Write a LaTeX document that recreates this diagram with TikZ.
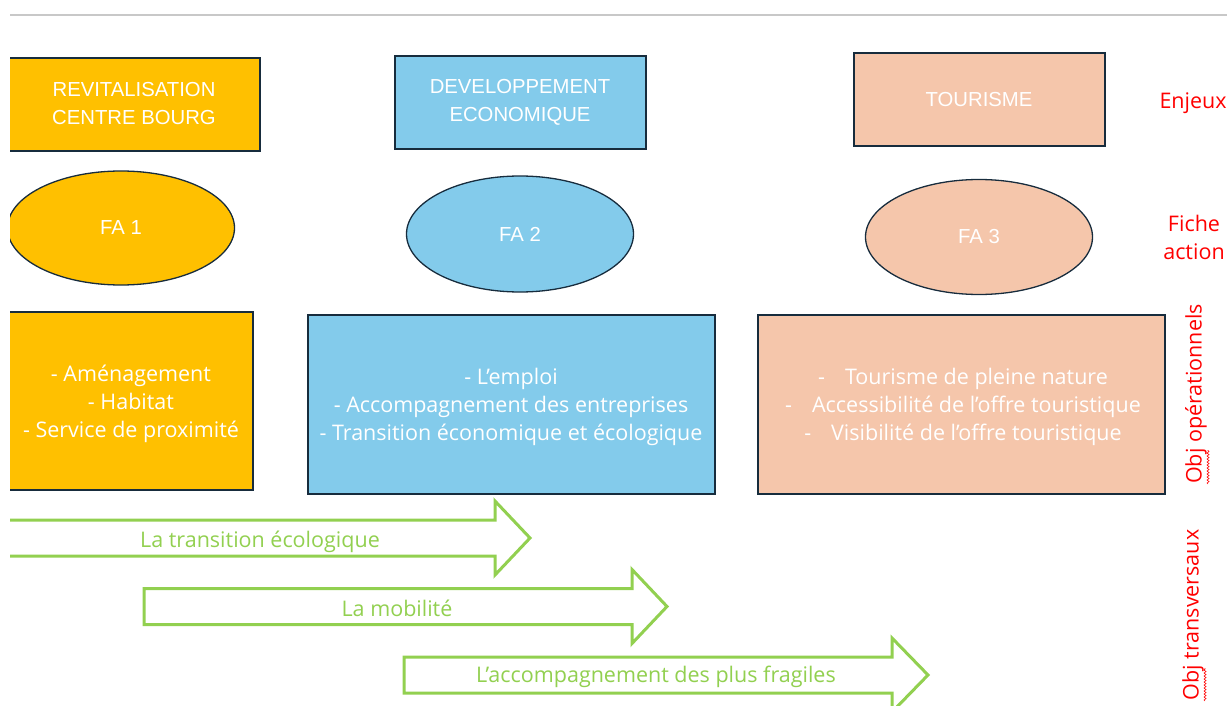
\documentclass[tikz,border=0pt]{standalone}
\usepackage{fontspec}
\setmainfont{Open Sans}
\newfontfamily\hdfont{Liberation Sans}
\usetikzlibrary{shapes.geometric,decorations.pathmorphing}
\definecolor{cgold}{HTML}{FFC000}
\definecolor{cblue}{HTML}{83CBEB}
\definecolor{cpeach}{HTML}{F5C6AB}
\definecolor{cborder}{HTML}{172C3D}
\definecolor{cgreen}{HTML}{92D050}
\definecolor{cred}{HTML}{FF0000}
\definecolor{cgrayline}{HTML}{C8C8C8}
\newcommand\garrow[5]{% name, left, headbase, tip, cy
  \draw[arrowline] (#2,#5-18) -- (#3,#5-18) -- (#3,#5-37) -- (#4,#5) -- (#3,#5+37) -- (#3,#5+18) -- (#2,#5+18) -- cycle;
  \coordinate (#1) at (#4,#5);
}
\begin{document}
\begin{tikzpicture}[x=1pt,y=-1pt,
  hdbox/.style={draw=cborder,line width=1.5pt,inner sep=0pt},
  hdtext/.style={text=white,font=\hdfont\fontsize{20.3}{28}\selectfont,align=center},
  fa/.style={ellipse,draw=cborder,line width=1.3pt,inner sep=0pt,text=white,font=\hdfont\fontsize{20.3}{24}\selectfont},
  objtext/.style={text=white,font=\fontsize{21.5}{28}\selectfont,align=center},
  arrowline/.style={draw=cgreen,line width=3pt,fill=white,line join=miter},
  arrowtext/.style={text=cgreen,font=\fontsize{21.5}{24}\selectfont},
  redlabel/.style={text=cred,font=\fontsize{21.5}{28}\selectfont,align=center},
]
\useasboundingbox (0,0) rectangle (1227,706);
\begin{scope}
\clip (10,0) rectangle (1227,706);
\draw[cgrayline,line width=1.5pt] (10,15) -- (1227,15);
% Enjeux row
\draw[hdbox,fill=cgold] (-10,58) rectangle (260,151);
\node[hdtext] (e1) at (134,104) {REVITALISATION\\CENTRE BOURG};
\draw[hdbox,fill=cblue] (395,56) rectangle (646,149);
\node[hdtext] (e2) at (520,102) {DEVELOPPEMENT\\ECONOMIQUE};
\draw[hdbox,fill=cpeach] (854,53) rectangle (1105,146);
\node[hdtext] (e3) at (979,100) {TOURISME};
\node[redlabel,anchor=west] (lenj) at (1156,103) {Enjeux};
% Fiche action row
\node[fa,fill=cgold,minimum width=227pt,minimum height=114pt] (fa1) at (121,228) {FA 1};
\node[fa,fill=cblue,minimum width=227pt,minimum height=116pt] (fa2) at (520,234) {FA 2};
\node[fa,fill=cpeach,minimum width=227pt,minimum height=115pt] (fa3) at (979,237) {FA 3};
\node[redlabel] (lfa) at (1194,237) {Fiche\\action};
% Objectifs operationnels
\draw[hdbox,fill=cgold] (-10,312) rectangle (253,490);
\node[objtext] (o1) at (131,404) {- Aménagement\\- Habitat\\- Service de proximité};
\draw[hdbox,fill=cblue] (308,315) rectangle (715,494);
\node[objtext] (o2) at (511,407) {- L’emploi\\- Accompagnement des entreprises\\- Transition économique et écologique};
\draw[hdbox,fill=cpeach] (758,315) rectangle (1165,494);
\node[objtext] (o3) at (963,407) {-\hspace{20pt}Tourisme de pleine nature\\-\hspace{20pt}Accessibilité de l’offre touristique\\-\hspace{20pt}Visibilité de l’offre touristique};
\node[redlabel,rotate=90] (lop) at (1196,394) {Obj opérationnels};
\draw[cred,line width=0.6pt,decorate,decoration={snake,amplitude=1pt,segment length=3pt}] (1208,484) -- (1208,450);
% Objectifs transversaux
\garrow{a1}{-20}{495}{530}{538}
\node[arrowtext] (t1) at (260,542) {La transition écologique};
\garrow{a2}{144}{632}{667}{606.5}
\node[arrowtext] (t2) at (397,608) {La mobilité};
\garrow{a3}{404}{892}{928}{675}
\node[arrowtext] (t3) at (656,677) {L’accompagnement des plus fragiles};
\node[redlabel,rotate=90] (ltr) at (1193,615) {Obj transversaux};
\draw[cred,line width=0.6pt,decorate,decoration={snake,amplitude=1pt,segment length=3pt}] (1205,701) -- (1205,668);
\end{scope}
\end{tikzpicture}
\end{document}
